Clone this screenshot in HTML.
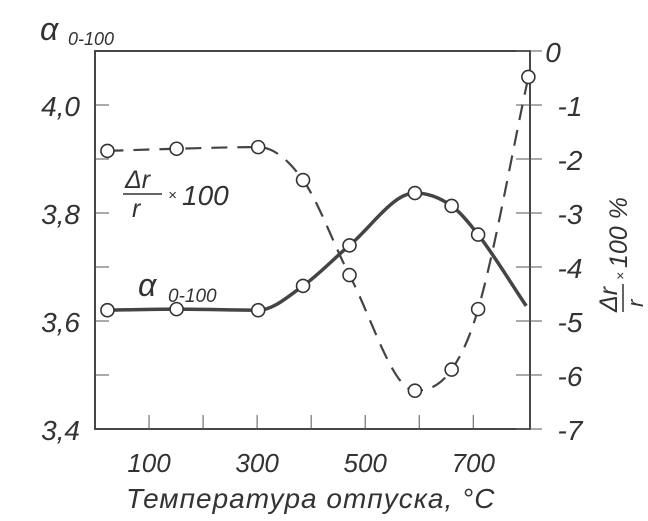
<!DOCTYPE html>
<html><head><meta charset="utf-8"><style>
body{margin:0;background:#fff;}
svg{display:block;}
text{font-family:"Liberation Sans",sans-serif;font-style:italic;fill:#333;}
</style></head><body>
<svg id="chart" width="648" height="521" viewBox="0 0 648 521" xmlns="http://www.w3.org/2000/svg">
<rect width="648" height="521" fill="#fff"/>
<g id="axes"></g>
<g id="series"></g>
<text x="40" y="40" font-size="32">α</text>
<text x="68" y="45" font-size="18">0-100</text>
<text x="126" y="508" font-size="28" letter-spacing="1">Температура отпуска, °С</text>
<g transform="translate(617,312) rotate(-90)">
<text x="0" y="0" font-size="25">Δr</text><line x1="0" y1="6" x2="28" y2="6" stroke="#333" stroke-width="1.5"/><text x="5" y="26" font-size="22">r</text>
<text x="32" y="8" font-size="14">×</text><text x="44" y="10" font-size="25">100 %</text>
</g>
<g>
<text x="125" y="188" font-size="25">Δr</text><line x1="123" y1="194" x2="162" y2="194" stroke="#333" stroke-width="1.5"/><text x="132" y="217" font-size="25">r</text>
<text x="168" y="200" font-size="15">×</text><text x="182" y="205" font-size="28">100</text>
</g>
<g>
<text x="138" y="296" font-size="32">α</text><text x="168" y="302" font-size="19">0-100</text>
</g>
</svg>
<script>
const temps = [23, 151, 302, 385, 471, 592, 660, 709, 798];
const alphaVals = [3.62, 3.622, 3.62, 3.665, 3.74, 3.837, 3.813, 3.76, 3.628];
const alphaMarked = [true,true,true,true,true,true,true,true,false];
const drTemps = [23, 151, 302, 385, 471, 592, 660, 709, 802];
const drVals = [-1.85, -1.81, -1.78, -2.39, -4.15, -6.29, -5.9, -4.78, -0.48];
const xTickLabels = ["100","300","500","700"];
const xTickVals = [100,300,500,700];
const leftTickLabels = ["3,4","3,6","3,8","4,0"];
const leftTickVals = [3.4,3.6,3.8,4.0];
const rightTickVals = [0,-1,-2,-3,-4,-5,-6,-7];

const L=95,R=530,T=51,B=429;
const X=t=>L+t*(R-L)/805;
const YL=v=>B-(v-3.4)*(B-T)/0.7;
const YR=v=>T-v*(B-T)/7;
const NS="http://www.w3.org/2000/svg";
function mk(tag,attrs,parent){const e=document.createElementNS(NS,tag);for(const k in attrs)e.setAttribute(k,attrs[k]);parent.appendChild(e);return e;}
const ax=document.getElementById('axes'), se=document.getElementById('series');
let fr=mk('rect',{x:L,y:T,width:R-L,height:B-T,fill:'none',stroke:'#333','stroke-width':1.8},ax);


for(let t=100;t<=700;t+=100){let l=mk('line',{x1:X(t),x2:X(t),y1:B,y2:B-14,stroke:'#555','stroke-width':1},ax);

}
xTickLabels.forEach((s,i)=>{let e=mk('text',{x:X(xTickVals[i]),y:472,'font-size':26,'text-anchor':'middle'},ax);e.textContent=s;

});
for(let v=3.5;v<4.05;v+=0.1){let l=mk('line',{x1:L,x2:L+14,y1:YL(v),y2:YL(v),stroke:'#555','stroke-width':1},ax);

}
leftTickLabels.forEach((s,i)=>{let e=mk('text',{x:80,y:YL(leftTickVals[i])+11,'font-size':28,'text-anchor':'end'},ax);e.textContent=s;

});
rightTickVals.forEach(v=>{let l=mk('line',{x1:R-14,x2:R+12,y1:YR(v),y2:YR(v),stroke:'#555','stroke-width':1},ax);


let e=mk('text',{x:v===0?553:570,y:YR(v)+11,'font-size':28,'text-anchor':'middle'},ax);e.textContent=String(v);

});
function monotone(p){const n=p.length,d=[],m=[];
for(let i=0;i<n-1;i++)d.push((p[i+1][1]-p[i][1])/(p[i+1][0]-p[i][0]));
m[0]=d[0];m[n-1]=d[n-2];
for(let i=1;i<n-1;i++){m[i]=(d[i-1]*d[i]<=0)?0:(d[i-1]+d[i])/2;}
for(let i=0;i<n-1;i++){if(d[i]===0){m[i]=0;m[i+1]=0;continue;}const a=m[i]/d[i],b=m[i+1]/d[i],s=a*a+b*b;if(s>9){const t=3/Math.sqrt(s);m[i]=t*a*d[i];m[i+1]=t*b*d[i];}}
let s=`M${p[0][0]},${p[0][1]}`;
for(let i=0;i<n-1;i++){const h=(p[i+1][0]-p[i][0])/3;
s+=` C${p[i][0]+h},${p[i][1]+m[i]*h} ${p[i+1][0]-h},${p[i+1][1]-m[i+1]*h} ${p[i+1][0]},${p[i+1][1]}`;}return s;}
const ap=temps.map((t,i)=>[X(t),YL(alphaVals[i])]);
let al=mk('path',{d:monotone(ap),fill:'none',stroke:'#444','stroke-width':3.5},se);


const dp=drTemps.map((t,i)=>[X(t),YR(drVals[i])]);
let dl=mk('path',{d:monotone(dp),fill:'none',stroke:'#444','stroke-width':2.2,'stroke-dasharray':'16,10'},se);


ap.forEach((p,i)=>{if(!alphaMarked[i])return;let c=mk('circle',{cx:p[0],cy:p[1],r:6.5,fill:'#fff',stroke:'#333','stroke-width':1.6},se);

});
dp.forEach(p=>{let c=mk('circle',{cx:p[0],cy:p[1],r:6.5,fill:'#fff',stroke:'#333','stroke-width':1.6},se);

});
</script>
</body></html>
